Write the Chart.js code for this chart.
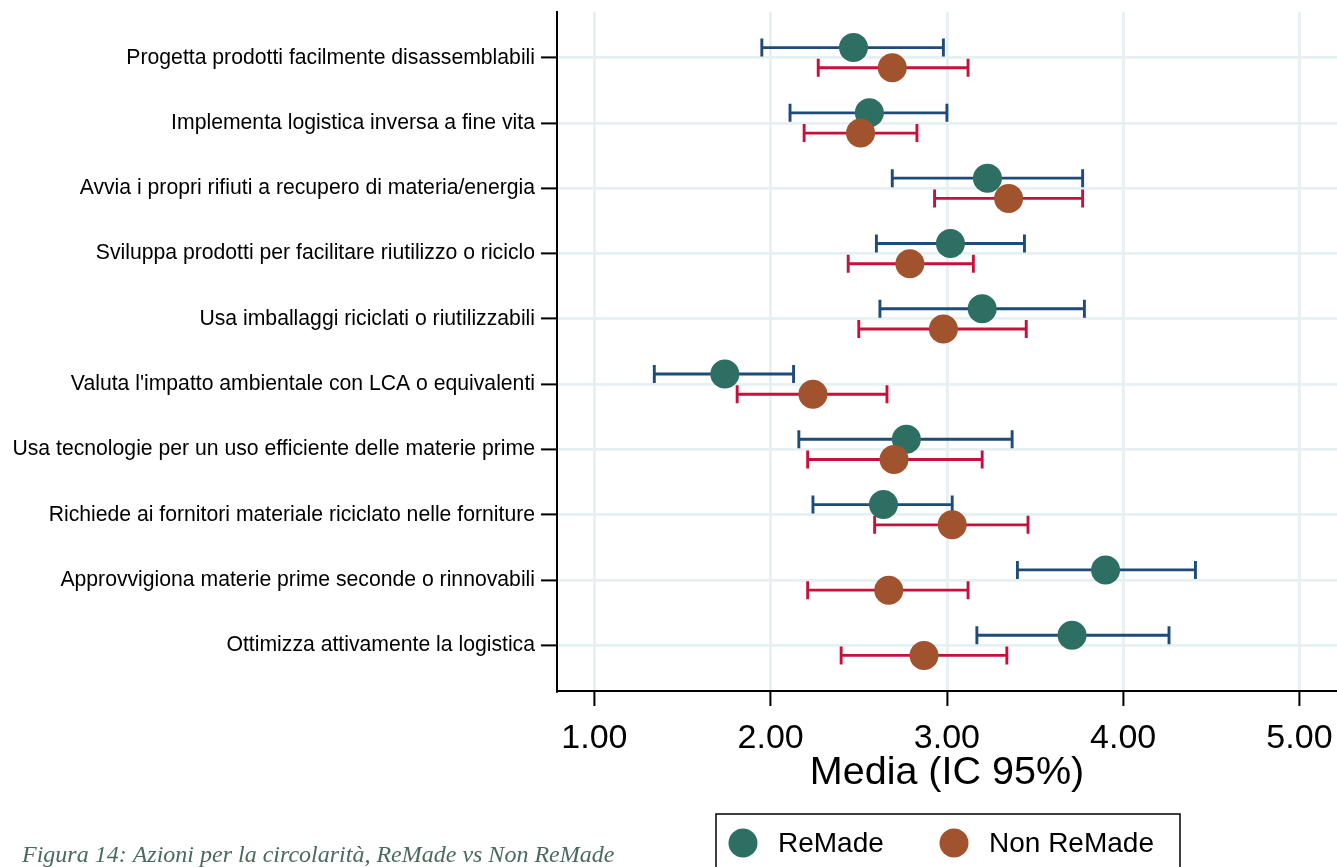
<!DOCTYPE html>
<html>
<head>
<meta charset="utf-8">
<script src="https://cdn.jsdelivr.net/npm/chart.js@4.4.1/dist/chart.umd.min.js"></script>
<style>
  html, body { margin: 0; padding: 0; background: #fff; }
  canvas { display: block; }
</style>
</head>
<body>
<canvas id="circChart" width="1337" height="867"></canvas>
<script>
// Categories, top to bottom
const categories = [
    'Progetta prodotti facilmente disassemblabili',
    'Implementa logistica inversa a fine vita',
    'Avvia i propri rifiuti a recupero di materia/energia',
    'Sviluppa prodotti per facilitare riutilizzo o riciclo',
    'Usa imballaggi riciclati o riutilizzabili',
    "Valuta l'impatto ambientale con LCA o equivalenti",
    'Usa tecnologie per un uso efficiente delle materie prime',
    'Richiede ai fornitori materiale riciclato nelle forniture',
    'Approvvigiona materie prime seconde o rinnovabili',
    'Ottimizza attivamente la logistica'
];

// ReMade: mean and 95% CI
const remadeMean = [2.47, 2.56, 3.23, 3.02, 3.20, 1.74, 2.77, 2.64, 3.90, 3.71];
const remadeLow  = [1.95, 2.11, 2.69, 2.60, 2.62, 1.34, 2.16, 2.24, 3.40, 3.17];
const remadeHigh = [2.98, 3.00, 3.77, 3.44, 3.78, 2.13, 3.37, 3.03, 4.41, 4.26];

// Non ReMade: mean and 95% CI
const nonRemadeMean = [2.69, 2.51, 3.35, 2.79, 2.98, 2.24, 2.70, 3.03, 2.67, 2.87];
const nonRemadeLow  = [2.27, 2.19, 2.93, 2.44, 2.50, 1.81, 2.21, 2.59, 2.21, 2.40];
const nonRemadeHigh = [3.12, 2.83, 3.77, 3.15, 3.45, 2.66, 3.20, 3.46, 3.12, 3.34];

const seriesNames = ['ReMade', 'Non ReMade'];
const xTicks = [1, 2, 3, 4, 5];
const axisTitle = 'Media (IC 95%)';
const caption = 'Figura 14: Azioni per la circolarità, ReMade vs Non ReMade';

// vertical shift of the two series inside a category row
const rowShift = 0.155;

function buildPoints(mean, low, high, shift) {
    return categories.map((c, i) => ({ x: mean[i], y: i + shift, lo: low[i], hi: high[i] }));
}

// draws the confidence intervals (with caps) under the dots
const errorBars = {
    id: 'errorBars',
    beforeDatasetsDraw(chart) {
        const ctx = chart.ctx;
        const xs = chart.scales.x, ys = chart.scales.y;
        chart.data.datasets.forEach((ds, di) => {
            if (!chart.isDatasetVisible(di)) return;
            ctx.save();
            ctx.strokeStyle = ds.barColor;
            ctx.lineWidth = 2.9;
            ds.data.forEach(p => {
                const y = ys.getPixelForValue(p.y);
                const x0 = xs.getPixelForValue(p.lo);
                const x1 = xs.getPixelForValue(p.hi);
                ctx.beginPath();
                ctx.moveTo(x0, y); ctx.lineTo(x1, y);
                ctx.moveTo(x0, y - 9); ctx.lineTo(x0, y + 9);
                ctx.moveTo(x1, y - 9); ctx.lineTo(x1, y + 9);
                ctx.stroke();
            });
            ctx.restore();
        });
    }
};

// framed legend and figure caption below the axis
const legendAndCaption = {
    id: 'legendAndCaption',
    afterDraw(chart) {
        const ctx = chart.ctx;
        ctx.save();
        ctx.strokeStyle = '#000';
        ctx.lineWidth = 1.5;
        ctx.strokeRect(716, 814, 464, 70);

        const items = [
            { x: 743, tx: 778 },
            { x: 954, tx: 989 }
        ];
        ctx.font = '28px Arial, "Liberation Sans", sans-serif';
        ctx.textBaseline = 'alphabetic';
        ctx.textAlign = 'left';
        chart.data.datasets.forEach((ds, i) => {
            ctx.fillStyle = ds.backgroundColor;
            ctx.beginPath();
            ctx.arc(items[i].x, 843, 14.5, 0, Math.PI * 2);
            ctx.fill();
            ctx.fillStyle = '#000';
            ctx.fillText(ds.label, items[i].tx, 852);
        });

        ctx.font = 'italic 24px "Times New Roman", "Liberation Serif", serif';
        ctx.fillStyle = '#4a6a5c';
        ctx.fillText(caption, 22, 862);
        ctx.restore();
    }
};

const ctx = document.getElementById('circChart').getContext('2d');

const circChart = new Chart(ctx, {
    type: 'scatter',
    data: {
        datasets: [
            {
                label: seriesNames[0],
                data: buildPoints(remadeMean, remadeLow, remadeHigh, -rowShift),
                backgroundColor: '#2e6f64',
                borderWidth: 0,
                pointRadius: 14.5,
                pointHoverRadius: 14.5,
                barColor: '#1f4b78',
                order: 1
            },
            {
                label: seriesNames[1],
                data: buildPoints(nonRemadeMean, nonRemadeLow, nonRemadeHigh, rowShift),
                backgroundColor: '#a0532d',
                borderWidth: 0,
                pointRadius: 14.5,
                pointHoverRadius: 14.5,
                barColor: '#c8103c',
                order: 0
            }
        ]
    },
    options: {
        responsive: false,
        animation: false,
        layout: {
            autoPadding: false,
            padding: { top: 12, right: 0, bottom: 70, left: 0 }
        },
        plugins: {
            legend: { display: false },
            tooltip: { enabled: false }
        },
        scales: {
            x: {
                type: 'linear',
                min: 0.788,
                max: 5.213,
                afterBuildTicks: scale => { scale.ticks = xTicks.map(v => ({ value: v })); },
                afterFit: scale => {
                    scale.height = 106;
                    scale.paddingLeft = 0;
                    scale.paddingRight = 0;
                },
                grid: {
                    color: '#e6eff1',
                    lineWidth: 2.8,
                    tickColor: '#000',
                    tickLength: 15,
                    tickWidth: 2
                },
                border: { color: '#000', width: 2 },
                ticks: {
                    color: '#000',
                    padding: 12,
                    font: { family: 'Arial, "Liberation Sans", sans-serif', size: 34 },
                    callback: v => v.toFixed(2)
                },
                title: {
                    display: true,
                    text: axisTitle,
                    color: '#000',
                    padding: { top: 0, bottom: 0 },
                    font: { family: 'Arial, "Liberation Sans", sans-serif', size: 39.5 }
                }
            },
            y: {
                type: 'linear',
                reverse: true,
                min: -0.7,
                max: 9.7,
                afterBuildTicks: scale => { scale.ticks = categories.map((c, i) => ({ value: i })); },
                afterFit: scale => {
                    scale.width = 557;
                    scale.paddingTop = 0;
                    scale.paddingBottom = 0;
                },
                grid: {
                    color: '#e6eff1',
                    lineWidth: 2.8,
                    tickColor: '#000',
                    tickLength: 16,
                    tickWidth: 2
                },
                border: { color: '#000', width: 2 },
                ticks: {
                    color: '#000',
                    padding: 6,
                    autoSkip: false,
                    font: { family: 'Arial, "Liberation Sans", sans-serif', size: 21.2 },
                    callback: v => categories[v]
                }
            }
        }
    },
    plugins: [errorBars, legendAndCaption]
});
</script>
</body>
</html>
